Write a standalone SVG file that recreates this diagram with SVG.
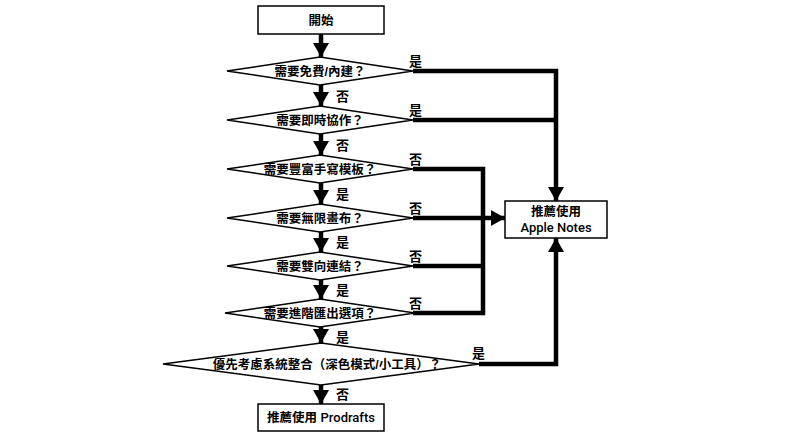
<svg xmlns="http://www.w3.org/2000/svg" width="800" height="446" viewBox="0 0 800 446">
<style>
text{font-family:"Liberation Sans","Noto Sans CJK TC",sans-serif;font-size:12.5px;fill:#000;font-weight:bold}
.c{text-anchor:middle}
.shape{fill:#fff;stroke:#000;stroke-width:1.5}
.ln{fill:none;stroke:#000;stroke-width:4.5}
.lbl{font-size:13px}
.en{font-family:Roboto,"Noto Sans CJK TC",sans-serif;font-weight:500;font-size:13px}
</style>
<defs>
<marker id="ah" markerUnits="userSpaceOnUse" markerWidth="16" markerHeight="16" refX="14" refY="8" orient="auto" viewBox="0 0 16 16">
<path d="M0,0 L14,8 L0,16 Z" fill="#000"/>
</marker>
</defs>
<rect width="800" height="446" fill="#fff"/>
<g id="connectors">
<path class="ln" d="M321,34 V57" marker-end="url(#ah)"/>
<path class="ln" d="M321,85 V106" marker-end="url(#ah)"/>
<path class="ln" d="M321,134 V155" marker-end="url(#ah)"/>
<path class="ln" d="M321,183 V204" marker-end="url(#ah)"/>
<path class="ln" d="M321,232 V252" marker-end="url(#ah)"/>
<path class="ln" d="M321,280 V299" marker-end="url(#ah)"/>
<path class="ln" d="M321,327 V343" marker-end="url(#ah)"/>
<path class="ln" d="M321,385 V404" marker-end="url(#ah)"/>
<path class="ln" d="M413,71 H556 V201" marker-end="url(#ah)"/>
<path class="ln" d="M413,120 H556"/>
<path class="ln" d="M413,169 H483 V313 H413"/>
<path class="ln" d="M413,266 H483"/>
<path class="ln" d="M413,218 H505" marker-end="url(#ah)"/>
<path class="ln" d="M479,364 H556 V238" marker-end="url(#ah)"/>
<text class="lbl" x="336" y="101">否</text>
<text class="lbl" x="336" y="150">否</text>
<text class="lbl" x="336" y="199">是</text>
<text class="lbl" x="336" y="247">是</text>
<text class="lbl" x="336" y="295">是</text>
<text class="lbl" x="336" y="342">是</text>
<text class="lbl" x="336" y="399">否</text>
<text class="lbl" x="409" y="66">是</text>
<text class="lbl" x="409" y="115">是</text>
<text class="lbl" x="409" y="164">否</text>
<text class="lbl" x="409" y="213">否</text>
<text class="lbl" x="409" y="261">否</text>
<text class="lbl" x="409" y="308">否</text>
<text class="lbl" x="472" y="358">是</text>
</g>
<g id="start">
<rect class="shape" x="258" y="6" width="126" height="28"/>
<text class="c" x="321" y="25">開始</text>
</g>
<g id="q1">
<polygon class="shape" points="227,71 320,57 413,71 320,85"/>
<text class="c" x="320" y="76">需要免費/內建？</text>
</g>
<g id="q2">
<polygon class="shape" points="227,120 320,106 413,120 320,134"/>
<text class="c" x="320" y="125">需要即時協作？</text>
</g>
<g id="q3">
<polygon class="shape" points="227,169 320,155 413,169 320,183"/>
<text class="c" x="320" y="174">需要豐富手寫模板？</text>
</g>
<g id="q4">
<polygon class="shape" points="227,218 320,204 413,218 320,232"/>
<text class="c" x="320" y="223">需要無限畫布？</text>
</g>
<g id="q5">
<polygon class="shape" points="227,266 320,252 413,266 320,280"/>
<text class="c" x="320" y="271">需要雙向連結？</text>
</g>
<g id="q6">
<polygon class="shape" points="225,313 320,299 415,313 320,327"/>
<text class="c" x="320" y="318">需要進階匯出選項？</text>
</g>
<g id="q7">
<polygon class="shape" points="163,364 321,343 479,364 321,385"/>
<text class="c" x="327" y="369">優先考慮系統整合（深色模式/小工具）？</text>
</g>
<g id="apple">
<rect class="shape" x="505" y="201" width="102" height="37"/>
<text class="c" x="556" y="216">推薦使用</text>
<text class="c en" x="556" y="232">Apple Notes</text>
</g>
<g id="prodrafts">
<rect class="shape" x="258" y="404" width="126" height="27"/>
<text class="c" x="321" y="422">推薦使用 <tspan class="en">Prodrafts</tspan></text>
</g>
</svg>
